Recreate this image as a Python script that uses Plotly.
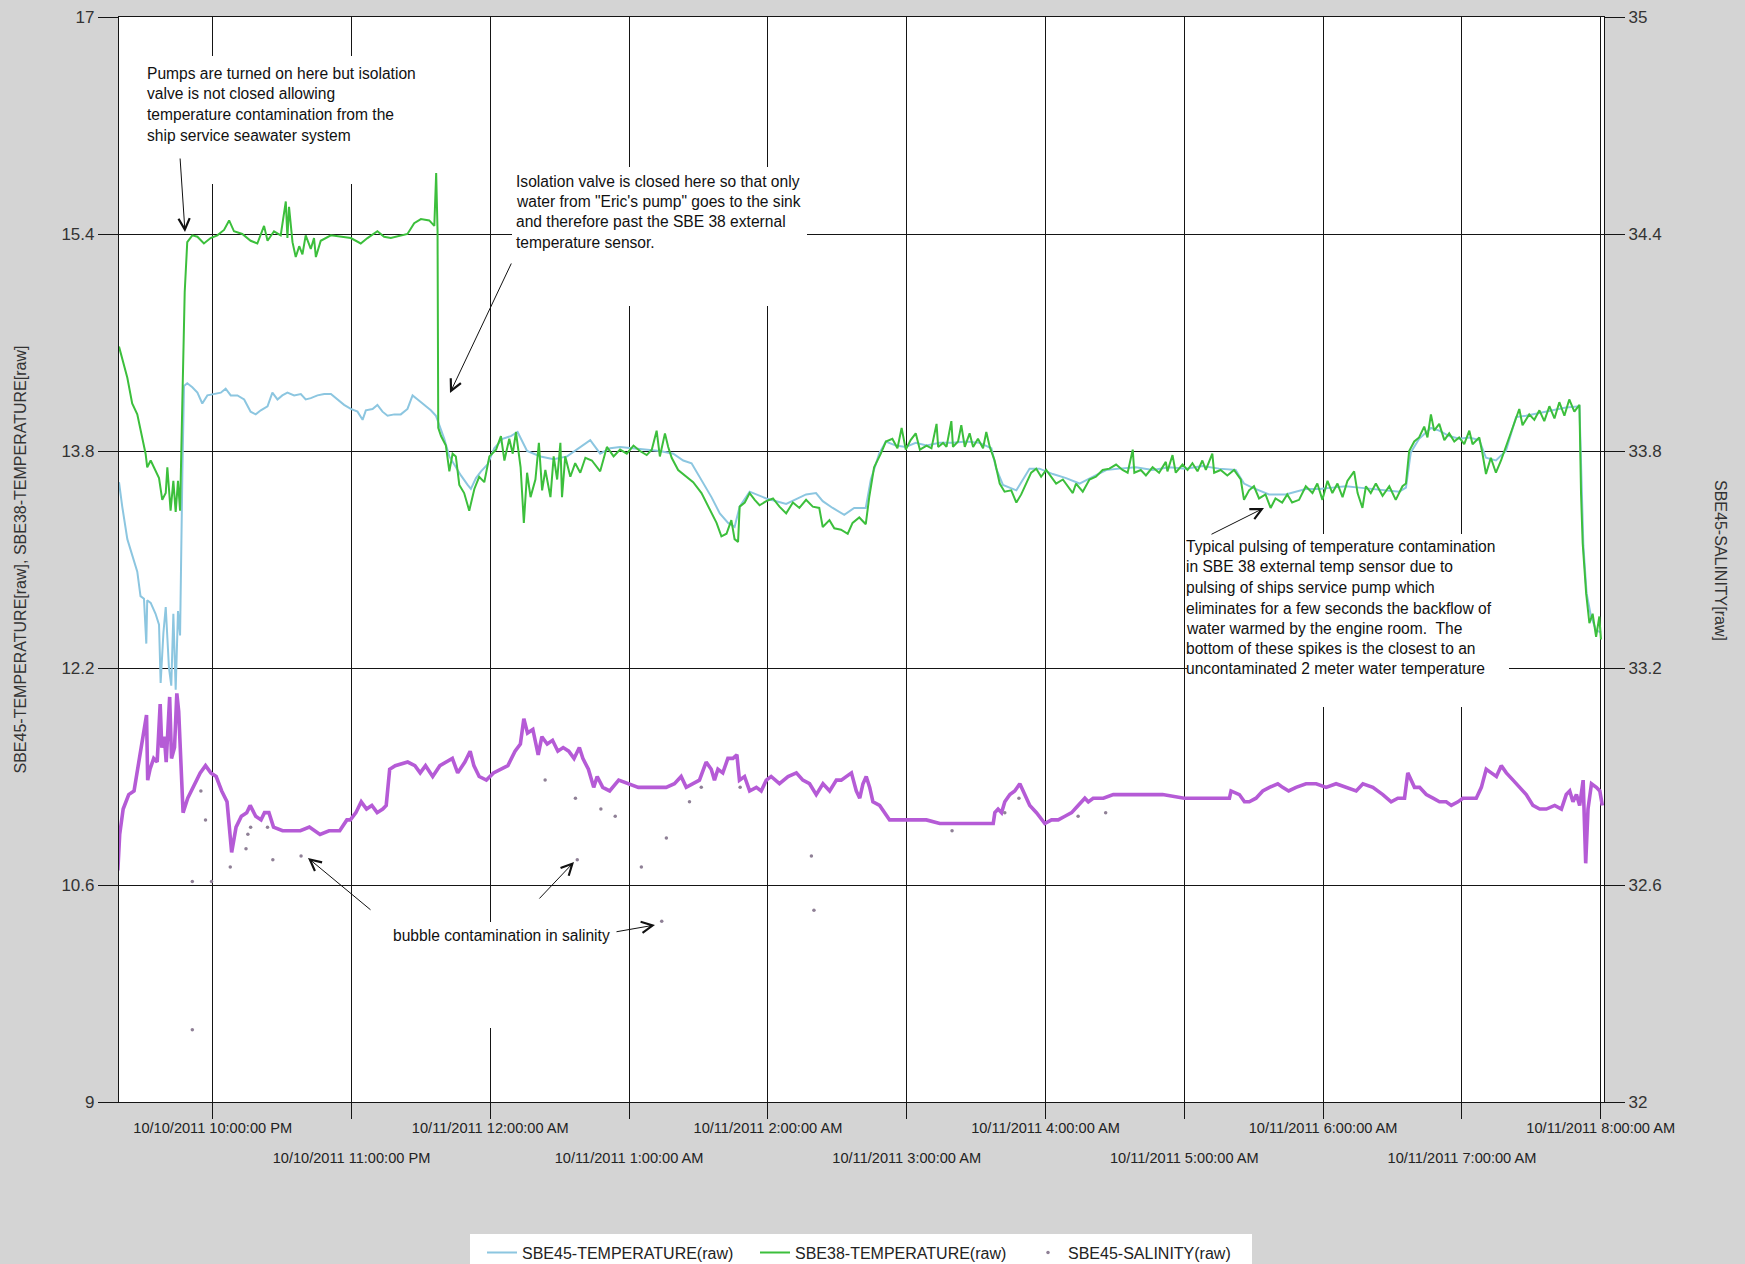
import pandas as pd
import plotly.graph_objects as go

# ---------------- data ----------------
BASE_TIME = "2011-10-10 22:00:00"   # all "minutes" below count from this time

sbe45_temp_minutes = [
    -40.5, -39.1, -36.9, -34.8, -32.6, -31.2, -29.7, -28.7, -28.3, -26.8,
    -24.7, -23.2, -22.5, -21.3, -20.3, -18.9, -17.9, -17.0, -16.0, -15.0,
    -14.1, -13.1, -12.4, -11.0, -8.8, -6.6, -4.5, -2.3, 0.6, 3.5,
    5.6, 7.8, 10.7, 13.6, 16.4, 18.6, 20.8, 23.7, 25.8, 28.0,
    30.1, 32.3, 35.2, 38.1, 40.2, 42.4, 45.3, 48.2, 51.1, 53.9,
    56.8, 59.7, 62.6, 64.8, 66.2, 69.1, 71.2, 73.4, 75.6, 78.5,
    81.3, 84.2, 86.4, 88.6, 91.4, 94.3, 96.5, 97.9, 100.1, 102.3,
    104.4, 107.3, 110.2, 111.6, 113.8, 116.0, 118.8, 121.7, 125.3, 128.9,
    131.8,
    135.9, 141.7, 147.4, 153.2, 158.9, 163.2, 167.5, 171.8, 176.1, 181.9,
    187.6, 193.3, 199.1, 203.4, 207.0, 211.3, 215.6, 219.2, 222.8, 225.6,
    227.8, 232.1, 239.3, 247.9, 256.5, 260.8, 263.7, 268.0, 273.0, 277.3,
    282.3, 284.5, 288.1, 291.0, 295.3, 299.6, 303.9,
    308.6, 314.3, 320.0, 325.8, 331.5, 336.6, 338.7, 341.6, 347.4, 353.1,
    357.4, 363.2, 368.9, 374.7, 380.4, 386.2, 391.9, 399.0, 406.3, 413.5,
    420.6, 427.8, 435.0, 442.2, 445.8, 449.4, 456.6, 463.8,
    472.5, 478.3, 484.0, 489.8, 495.6, 501.3, 507.1, 512.9, 515.8, 517.9,
    521.5, 526.6, 530.2, 534.5, 538.8, 543.2, 547.5, 550.4, 554.7, 559.0,
    563.4, 567.7, 573.5, 579.2, 585.0, 590.8, 591.6, 592.5, 593.9, 595.8,
    598.0, 600.1,
]
sbe45_temp_values = [
    13.57, 13.39, 13.15, 13.04, 12.91, 12.73, 12.71, 12.38, 12.70, 12.68,
    12.60, 12.52, 12.09, 12.46, 12.65, 12.20, 12.07, 12.60, 12.04, 12.62,
    12.44, 13.65, 14.28, 14.30, 14.27, 14.23, 14.15, 14.21, 14.22, 14.23,
    14.26, 14.21, 14.21, 14.18, 14.09, 14.07, 14.10, 14.13, 14.23, 14.18,
    14.21, 14.23, 14.21, 14.22, 14.18, 14.19, 14.21, 14.22, 14.22, 14.18,
    14.14, 14.11, 14.09, 14.03, 14.10, 14.11, 14.14, 14.09, 14.06, 14.07,
    14.07, 14.11, 14.21, 14.18, 14.14, 14.10, 14.06, 13.99, 13.89, 13.76,
    13.70, 13.62, 13.55, 13.52, 13.60, 13.65, 13.70, 13.82, 13.89, 13.91,
    13.94,
    13.80, 13.76, 13.74, 13.76, 13.83, 13.88, 13.78, 13.82, 13.83, 13.82,
    13.81, 13.80, 13.78, 13.73, 13.71, 13.59, 13.46, 13.34, 13.27, 13.24,
    13.39, 13.50, 13.45, 13.41, 13.48, 13.49, 13.43, 13.38, 13.33, 13.38,
    13.38, 13.59, 13.78, 13.87, 13.84, 13.83, 13.86,
    13.84, 13.86, 13.86, 13.87, 13.86, 13.82, 13.67, 13.55, 13.51, 13.67,
    13.67, 13.63, 13.60, 13.56, 13.61, 13.66, 13.67, 13.68, 13.66, 13.68,
    13.67, 13.69, 13.67, 13.66, 13.56, 13.53, 13.48, 13.48,
    13.52, 13.52, 13.53, 13.54, 13.53, 13.52, 13.51, 13.50, 13.53, 13.79,
    13.89, 13.97, 13.95, 13.91, 13.89, 13.90, 13.88, 13.75, 13.73, 13.80,
    14.05, 14.06, 14.08, 14.10, 14.12, 14.13, 13.60, 13.10, 12.75, 12.58,
    12.48, 12.46,
]

sbe38_temp_minutes = [
    -40.5, -36.9, -34.8, -32.6, -29.0, -28.3, -26.8, -23.2, -21.8, -20.3,
    -19.6, -18.2, -17.0, -16.0, -15.0, -14.1, -13.1, -12.1, -11.0, -8.8,
    -6.6, -3.8, -0.9, 2.0, 4.9, 7.1, 9.2, 12.8, 16.4, 19.3,
    22.2, 23.7, 26.5, 29.4, 31.6, 32.3, 33.0, 34.5, 35.9, 37.4,
    38.8, 40.2, 42.4, 43.8, 44.6, 46.7, 51.1, 55.4, 59.7, 64.0,
    66.9, 71.2, 74.1, 77.0, 81.3, 84.2, 87.1, 90.0, 93.6, 95.8,
    96.6, 97.2, 97.5, 98.7, 100.8, 102.3, 103.7, 105.1, 106.6, 108.7,
    110.9, 113.1, 115.2, 117.4, 119.6, 122.5, 124.6, 126.1, 128.2, 129.7,
    131.1,
    133.1, 134.5, 135.9, 137.4, 139.5, 141.0, 142.4, 143.8, 146.0, 147.4,
    148.9, 150.3, 151.0, 152.4, 154.6, 156.7, 158.9, 161.1, 163.9, 167.5,
    170.4, 173.3, 176.1, 179.0, 181.9, 184.7, 187.6, 189.8, 191.9, 193.3,
    195.5, 196.9, 198.4, 201.2, 204.8, 207.7, 211.3, 214.9, 217.8, 219.9,
    222.1, 224.2, 225.6, 227.1, 227.8, 230.0, 232.1, 234.3, 236.4, 239.3,
    242.2, 245.0, 247.9, 250.8, 253.6, 256.5, 259.4, 262.2, 263.7, 266.6,
    268.7, 271.6, 274.5, 276.6, 279.5, 282.3, 283.8, 285.9, 288.8, 291.0,
    293.8, 296.0, 297.8, 299.6, 301.7, 303.9,
    305.7, 308.6, 310.7, 312.9, 313.6, 315.7, 317.2, 319.3, 320.0, 322.2,
    323.6, 325.1, 327.2, 328.7, 330.8, 333.0, 334.4, 335.9, 338.0, 340.2,
    342.3, 345.2, 347.4, 349.5, 351.7, 353.8, 356.0, 358.1, 360.3, 362.4,
    364.6, 367.5, 369.6, 371.8, 373.2, 376.1, 379.0, 381.8, 384.7, 387.6,
    390.5, 393.3, 395.5, 397.7, 398.4, 401.2, 403.4, 406.3, 409.1, 412.0,
    412.7, 414.9, 416.3, 419.2, 421.4, 423.5, 425.7, 427.8, 429.3, 432.1,
    432.9, 435.7, 438.6, 441.5, 444.4, 445.8, 448.0, 450.1, 452.3, 455.1,
    457.3, 459.4, 462.3, 464.5, 466.6,
    469.6, 472.5, 475.4, 477.5, 479.7, 481.9, 484.0, 486.2, 488.4, 490.5,
    493.4, 494.9, 497.0, 498.5, 500.6, 502.8, 505.7, 508.6, 511.4, 514.3,
    515.8, 517.2, 519.4, 521.5, 523.7, 525.1, 526.6, 528.0, 530.2, 532.4,
    534.5, 536.7, 538.8, 541.0, 543.2, 544.6, 547.5, 548.9, 550.4, 552.5,
    554.7, 556.9, 559.0, 561.9, 564.8, 566.2, 569.1, 571.3, 573.5, 575.6,
    577.8, 580.0, 582.1, 584.3, 586.4, 588.6, 590.8, 591.5, 592.2, 593.7,
    595.1, 596.5, 598.0, 599.4, 600.1,
]
sbe38_temp_values = [
    14.57, 14.34, 14.15, 14.07, 13.78, 13.68, 13.73, 13.60, 13.44, 13.49,
    13.68, 13.36, 13.58, 13.35, 13.58, 13.36, 14.18, 14.97, 15.34, 15.39,
    15.38, 15.33, 15.37, 15.39, 15.43, 15.50, 15.42, 15.40, 15.35, 15.33,
    15.46, 15.35, 15.42, 15.39, 15.64, 15.37, 15.60, 15.34, 15.23, 15.31,
    15.25, 15.39, 15.29, 15.37, 15.23, 15.35, 15.39, 15.38, 15.37, 15.33,
    15.37, 15.42, 15.38, 15.37, 15.39, 15.40, 15.48, 15.51, 15.50, 15.46,
    15.85, 15.42, 13.97, 13.91, 13.84, 13.65, 13.78, 13.76, 13.55, 13.49,
    13.36, 13.52, 13.61, 13.57, 13.76, 13.81, 13.91, 13.73, 13.89, 13.78,
    13.94,
    13.68, 13.27, 13.64, 13.46, 13.59, 13.86, 13.51, 13.66, 13.46, 13.76,
    13.59, 13.86, 13.46, 13.76, 13.61, 13.71, 13.64, 13.75, 13.73, 13.65,
    13.83, 13.76, 13.81, 13.78, 13.84, 13.80, 13.77, 13.81, 13.95, 13.76,
    13.93, 13.83, 13.75, 13.66, 13.61, 13.57, 13.49, 13.37, 13.27, 13.17,
    13.19, 13.29, 13.15, 13.13, 13.39, 13.42, 13.49, 13.44, 13.40, 13.43,
    13.45, 13.39, 13.34, 13.42, 13.38, 13.44, 13.39, 13.38, 13.24, 13.29,
    13.23, 13.22, 13.19, 13.27, 13.31, 13.26, 13.46, 13.68, 13.78, 13.87,
    13.89, 13.82, 13.97, 13.81, 13.88, 13.93,
    13.81, 13.84, 13.82, 14.00, 13.83, 13.86, 13.83, 14.02, 13.83, 13.87,
    13.99, 13.83, 13.93, 13.83, 13.89, 13.82, 13.94, 13.83, 13.73, 13.56,
    13.50, 13.51, 13.42, 13.48, 13.56, 13.64, 13.67, 13.61, 13.66, 13.61,
    13.56, 13.59, 13.54, 13.49, 13.56, 13.50, 13.59, 13.61, 13.66, 13.67,
    13.70, 13.66, 13.64, 13.81, 13.64, 13.66, 13.62, 13.68, 13.64, 13.72,
    13.65, 13.77, 13.64, 13.70, 13.66, 13.71, 13.65, 13.73, 13.66, 13.78,
    13.64, 13.66, 13.62, 13.66, 13.59, 13.44, 13.51, 13.54, 13.45, 13.48,
    13.38, 13.45, 13.42, 13.48, 13.42,
    13.44, 13.54, 13.49, 13.56, 13.44, 13.58, 13.49, 13.56, 13.46, 13.58,
    13.65, 13.49, 13.38, 13.54, 13.49, 13.56, 13.47, 13.54, 13.44, 13.54,
    13.56, 13.80, 13.87, 13.90, 13.98, 13.90, 14.07, 13.95, 14.00, 13.88,
    13.93, 13.87, 13.90, 13.85, 13.95, 13.85, 13.90, 13.78, 13.63, 13.75,
    13.64, 13.73, 13.83, 13.98, 14.11, 13.99, 14.07, 14.03, 14.10, 14.02,
    14.13, 14.04, 14.16, 14.06, 14.18, 14.09, 14.14, 13.48, 13.12, 12.75,
    12.53, 12.60, 12.43, 12.58, 12.41,
]

sbe45_sal_minutes = [
    -41.0, -40.2, -38.7, -36.3, -34.0, -32.5, -30.9, -29.4, -28.6, -28.1,
    -27.1, -25.5, -24.0, -22.7, -22.0, -20.9, -20.1, -18.6, -17.8, -16.5,
    -15.5, -14.7, -13.9, -13.5, -12.8, -10.8, -8.5, -5.4, -3.1, -0.8,
    1.5, 3.9, 6.2, 7.3, 8.2, 10.1, 12.4, 14.7, 16.2, 18.6,
    20.9, 22.4, 24.3, 26.3, 30.2, 34.8, 37.9, 41.8, 46.4, 50.3,
    54.9, 58.0, 59.5, 61.9, 64.2, 66.5, 68.8, 71.1, 73.5, 75.0,
    76.5, 78.9, 84.3, 87.4, 89.7, 92.0, 95.1, 98.2, 101.3, 103.6,
    105.9, 109.0, 111.3, 112.9, 115.2, 118.3, 121.4, 124.5, 127.6, 130.7,
    133.0, 134.5, 136.1, 138.4, 140.7, 142.3, 144.6, 146.9, 149.2, 151.5,
    153.9, 156.2, 158.5, 160.0, 162.4, 164.7, 166.2, 168.6, 171.6, 175.5,
    180.2, 184.0, 187.9,
    193.1, 196.0, 199.6, 202.5, 204.7, 207.5, 210.4, 213.3, 215.5, 216.9,
    218.4, 220.5, 222.7, 224.9, 226.6, 227.7, 229.9, 232.1, 235.0, 237.1,
    239.3, 241.4, 245.0, 248.7, 252.3, 255.1, 258.0, 260.9, 263.8, 266.7,
    269.6, 271.7, 273.9, 276.1, 278.2, 279.7, 281.1, 282.5, 284.0, 285.4,
    288.3, 290.5, 292.6, 297.0, 302.7, 308.5, 314.3, 320.0, 325.8, 331.6,
    337.4, 338.1, 339.5, 341.0, 342.4, 344.6, 346.7, 348.9, 351.1, 353.2,
    356.1, 358.3, 359.7, 362.6, 365.5, 368.4, 371.3, 374.1, 377.0, 378.5,
    380.6, 385.0, 389.3, 395.0,
    403.4, 410.6, 420.0, 427.9, 433.7, 439.5, 440.2, 443.8, 446.0, 448.1,
    451.0, 453.9, 456.8, 460.4, 462.5, 465.1, 468.3, 472.6, 477.0, 481.3,
    485.6, 490.0, 494.3, 497.2, 501.5, 505.8, 509.4, 512.3, 515.2, 516.6,
    518.1, 519.5, 521.7, 524.6, 527.5, 530.3, 533.2, 535.4, 538.3, 540.4,
    543.3, 546.2, 548.4, 550.5, 552.7, 554.9, 557.0, 559.2, 562.1, 565.0,
    567.8, 570.7, 573.6, 576.5, 580.1, 583.0, 585.1, 586.6, 588.0, 589.5,
    590.9, 592.4, 593.5, 594.5, 596.0, 598.1, 599.6, 600.7,
]
sbe45_sal_values = [
    32.64, 32.74, 32.81, 32.85, 32.86, 32.92, 32.98, 33.04, 33.07, 32.89,
    32.92, 32.95, 32.94, 33.10, 32.98, 33.01, 32.94, 33.12, 32.95, 32.98,
    33.13, 33.08, 32.98, 32.89, 32.80, 32.84, 32.87, 32.91, 32.93, 32.91,
    32.90, 32.86, 32.83, 32.75, 32.69, 32.76, 32.79, 32.80, 32.82, 32.79,
    32.78, 32.80, 32.80, 32.76, 32.75, 32.75, 32.75, 32.76, 32.74, 32.75,
    32.75, 32.78, 32.78, 32.80, 32.83, 32.81, 32.82, 32.80, 32.81, 32.82,
    32.92, 32.93, 32.94, 32.93, 32.91, 32.93, 32.90, 32.93, 32.94, 32.95,
    32.91, 32.94, 32.97, 32.93, 32.90, 32.89, 32.91, 32.92, 32.93, 32.97,
    32.99, 33.06, 33.02, 33.03, 32.96, 33.01, 32.99, 33.00, 32.97, 32.98,
    32.97, 32.95, 32.98, 32.95, 32.92, 32.87, 32.90, 32.87, 32.86, 32.89,
    32.88, 32.87, 32.87,
    32.87, 32.87, 32.88, 32.90, 32.87, 32.88, 32.89, 32.94, 32.92, 32.89,
    32.92, 32.91, 32.95, 32.95, 32.96, 32.89, 32.90, 32.86, 32.87, 32.86,
    32.89, 32.90, 32.88, 32.90, 32.91, 32.89, 32.88, 32.85, 32.88, 32.86,
    32.89, 32.89, 32.90, 32.91, 32.86, 32.84, 32.88, 32.90, 32.87, 32.83,
    32.82, 32.80, 32.78, 32.78, 32.78, 32.78, 32.77, 32.77, 32.77, 32.77,
    32.77, 32.80, 32.81, 32.80, 32.83, 32.85, 32.86, 32.88, 32.85, 32.82,
    32.80, 32.78, 32.77, 32.78, 32.78, 32.79, 32.80, 32.82, 32.84, 32.83,
    32.84, 32.84, 32.85, 32.85,
    32.85, 32.85, 32.84, 32.84, 32.84, 32.84, 32.86, 32.85, 32.83, 32.83,
    32.84, 32.86, 32.87, 32.88, 32.87, 32.86, 32.87, 32.88, 32.88, 32.87,
    32.88, 32.87, 32.86, 32.88, 32.87, 32.85, 32.83, 32.84, 32.84, 32.91,
    32.89, 32.87, 32.87, 32.85, 32.84, 32.83, 32.83, 32.82, 32.83, 32.84,
    32.84, 32.84, 32.87, 32.92, 32.91, 32.90, 32.93, 32.91, 32.89, 32.87,
    32.85, 32.82, 32.81, 32.81, 32.82, 32.81, 32.85, 32.86, 32.83, 32.85,
    32.82, 32.89, 32.66, 32.81, 32.88, 32.87, 32.86, 32.82,
]

# isolated salinity samples (bubble contamination)
bubble_minutes = [
    -8.8, -0.5, -8.8, -5.1, -3.1, 7.6, 14.4, 15.2, 16.4, 23.7,
    26.0, 38.2, 143.7, 156.8, 157.6, 167.8, 174.0, 185.3, 194.1, 196.1,
    206.1, 211.2, 228.0, 258.8, 259.9, 319.6, 342.4, 348.5, 374.1, 386.0,
]
bubble_values = [
    32.61, 32.61, 32.20, 32.86, 32.78, 32.65, 32.70, 32.74, 32.76, 32.76,
    32.67, 32.68, 32.89, 32.84, 32.67, 32.81, 32.79, 32.65, 32.50, 32.73,
    32.83, 32.87, 32.87, 32.68, 32.53, 32.75, 32.80, 32.84, 32.79, 32.80,
]

hour_ticks = [
    "2011-10-10 22:00:00", "2011-10-10 23:00:00", "2011-10-11 00:00:00",
    "2011-10-11 01:00:00", "2011-10-11 02:00:00", "2011-10-11 03:00:00",
    "2011-10-11 04:00:00", "2011-10-11 05:00:00", "2011-10-11 06:00:00",
    "2011-10-11 07:00:00", "2011-10-11 08:00:00",
]
hour_labels = [
    "10/10/2011 10:00:00 PM", "10/10/2011 11:00:00 PM", "10/11/2011 12:00:00 AM",
    "10/11/2011 1:00:00 AM", "10/11/2011 2:00:00 AM", "10/11/2011 3:00:00 AM",
    "10/11/2011 4:00:00 AM", "10/11/2011 5:00:00 AM", "10/11/2011 6:00:00 AM",
    "10/11/2011 7:00:00 AM", "10/11/2011 8:00:00 AM",
]
temp_ticks = [9, 10.6, 12.2, 13.8, 15.4, 17]
temp_tick_labels = ["9", "10.6", "12.2", "13.8", "15.4", "17"]
sal_ticks = [32, 32.6, 33.2, 33.8, 34.4, 35]
sal_tick_labels = ["32", "32.6", "33.2", "33.8", "34.4", "35"]
time_range = ["2011-10-10 21:19:30", "2011-10-11 08:01:25"]
temp_range = [9, 17]
sal_range = [32, 35]

names = ["SBE45-TEMPERATURE(raw)", "SBE38-TEMPERATURE(raw)", "SBE45-SALINITY(raw)"]
left_title = "SBE45-TEMPERATURE[raw], SBE38-TEMPERATURE[raw]"
right_title = "SBE45-SALINITY[raw]"

note_pumps = ["Pumps are turned on here but isolation",
              "valve is not closed allowing",
              "temperature contamination from the",
              "ship service seawater system"]
note_valve = ["Isolation valve is closed here so that only",
              "water from \"Eric's pump\" goes to the sink",
              "and therefore past the SBE 38 external",
              "temperature sensor."]
note_pulse = ["Typical pulsing of temperature contamination",
              "in SBE 38 external temp sensor due to",
              "pulsing of ships service pump which",
              "eliminates for a few seconds the backflow of",
              "water warmed by the engine room.  The",
              "bottom of these spikes is the closest to an",
              "uncontaminated 2 meter water temperature"]
note_bubble = "bubble contamination in salinity"

# ---------------- layout geometry / styles ----------------
W, H = 1745, 1264
PL, PR, PT, PB = 119, 1604, 17, 1102
FONT = "Liberation Sans, Arial, Helvetica, sans-serif"
INK = "#151515"
C_BLUE = "#8cc6e0"
C_GREEN = "#3cbf3c"
C_PURPLE = "#b55bd6"
C_DOT = "#8f8096"


def fx(p):
    return (p - PL) / (PR - PL)


def fy(p):
    return (PB - p) / (PB - PT)


base = pd.Timestamp(BASE_TIME)


def to_time(mins):
    return [base + pd.Timedelta(minutes=m) for m in mins]


fig = go.Figure()
fig.add_trace(go.Scatter(x=to_time(sbe45_temp_minutes), y=sbe45_temp_values, mode="lines",
                         name=names[0], line=dict(color=C_BLUE, width=2)))
fig.add_trace(go.Scatter(x=to_time(sbe38_temp_minutes), y=sbe38_temp_values, mode="lines",
                         name=names[1], line=dict(color=C_GREEN, width=2)))
fig.add_trace(go.Scatter(x=to_time(sbe45_sal_minutes), y=sbe45_sal_values, mode="lines",
                         name=names[2], yaxis="y2", legendgroup="sal", showlegend=False,
                         line=dict(color=C_PURPLE, width=3.6)))
fig.add_trace(go.Scatter(x=to_time(bubble_minutes), y=bubble_values, mode="markers",
                         name=names[2], yaxis="y2", legendgroup="sal",
                         marker=dict(color=C_DOT, size=3.5)))
# carrier for the second (lower) row of time labels
fig.add_trace(go.Scatter(x=[], y=[], xaxis="x2", yaxis="y", showlegend=False, hoverinfo="skip"))

even_text = [lab if i % 2 == 0 else "" for i, lab in enumerate(hour_labels)]
odd_vals = [t for i, t in enumerate(hour_ticks) if i % 2 == 1]
odd_text = [lab for i, lab in enumerate(hour_labels) if i % 2 == 1]

axis_common = dict(linecolor=INK, linewidth=1.2, tickcolor=INK, tickwidth=1.2,
                   zeroline=False, ticks="outside")

annotations = []
annotations.append(dict(text=left_title, x=fx(20), y=fy(559.5), xref="paper", yref="paper",
                        showarrow=False, textangle=-90, xanchor="center", yanchor="middle",
                        font=dict(size=16, color="#333", family=FONT)))
annotations.append(dict(text=right_title, x=fx(1721), y=fy(560), xref="paper", yref="paper",
                        showarrow=False, textangle=90, xanchor="center", yanchor="middle",
                        font=dict(size=16, color="#333", family=FONT)))


def add_lines(lines, x, ys):
    for line, y in zip(lines, ys):
        annotations.append(dict(text=line, x=fx(x), y=fy(y), xref="paper", yref="paper",
                                showarrow=False, xanchor="left", yanchor="middle",
                                font=dict(size=15.6, color="#111", family=FONT)))


add_lines(note_pumps, 145, [73.5, 94, 114.5, 135])
add_lines(note_valve, 514, [181, 201.5, 222, 242.5])
add_lines(note_pulse, 1184, [546.7, 566.7, 587.3, 608, 628.3, 648.3, 668.3])
add_lines([note_bubble], 391, [935])

arrows = [((180, 157), (185, 232)), ((512, 262), (450, 393)), ((1210, 535), (1264, 508)),
          ((372, 911), (308, 858)), ((538, 900), (574, 862)), ((615, 932), (655, 925))]
for (tx, ty), (hx, hy) in arrows:
    annotations.append(dict(text="", x=fx(hx), y=fy(hy), xref="paper", yref="paper",
                            ax=tx - hx, ay=ty - hy, axref="pixel", ayref="pixel",
                            showarrow=True, arrowhead=5, arrowsize=2.2, arrowwidth=1,
                            arrowcolor="#111", standoff=0, startstandoff=0))

shapes = []
for (x0, y0, x1, y1) in [(138, 56, 430, 184), (512, 167, 807, 306),
                         (1187, 534, 1509, 707), (388, 922, 612, 1028)]:
    shapes.append(dict(type="rect", xref="paper", yref="paper", x0=fx(x0), x1=fx(x1),
                       y0=fy(y1), y1=fy(y0), fillcolor="white", line=dict(width=0),
                       layer="above"))
# legend panel
shapes.append(dict(type="rect", xref="paper", yref="paper", x0=fx(470), x1=fx(1252),
                   y0=fy(1275), y1=fy(1234), fillcolor="white", line=dict(width=0),
                   layer="below"))

fig.update_layout(
    width=W, height=H,
    paper_bgcolor="#d4d4d4", plot_bgcolor="white",
    margin=dict(l=PL, r=W - PR, t=PT, b=H - PB, autoexpand=False),
    font=dict(family=FONT, color="#222"),
    xaxis=dict(type="date", range=time_range, tickvals=hour_ticks, ticktext=even_text,
               ticklen=16, showgrid=True, gridcolor=INK, gridwidth=1.2, mirror=True,
               showline=True, ticklabelstandoff=-4,
               tickfont=dict(size=14.6, color="#222"), **axis_common),
    xaxis2=dict(type="date", range=time_range, overlaying="x", anchor="y", side="bottom",
                tickvals=odd_vals, ticktext=odd_text, ticklen=16, showgrid=False,
                showline=False, ticklabelstandoff=26,
                tickfont=dict(size=14.6, color="#222"), **axis_common),
    yaxis=dict(range=temp_range, tickvals=temp_ticks, ticktext=temp_tick_labels, ticklen=20,
               showgrid=True, gridcolor=INK, gridwidth=1.2, showline=True,
               tickfont=dict(size=17, color="#333"), **axis_common),
    yaxis2=dict(range=sal_range, tickvals=sal_ticks, ticktext=sal_tick_labels, ticklen=20,
                overlaying="y", side="right", showgrid=False, showline=True,
                tickfont=dict(size=17, color="#333"), **axis_common),
    legend=dict(orientation="h", x=fx(482), xanchor="left", y=fy(1235.5), yanchor="top",
                bgcolor="rgba(0,0,0,0)", font=dict(size=16, color="#222", family=FONT),
                entrywidth=228, entrywidthmode="pixels", itemwidth=30),
    annotations=annotations,
    shapes=shapes,
    showlegend=True,
)

fig.write_html(
    "out.html",
    config={"displayModeBar": False},
    post_script="document.body.style.margin='0';document.body.style.padding='0';"
                "document.body.style.overflow='hidden';",
)
